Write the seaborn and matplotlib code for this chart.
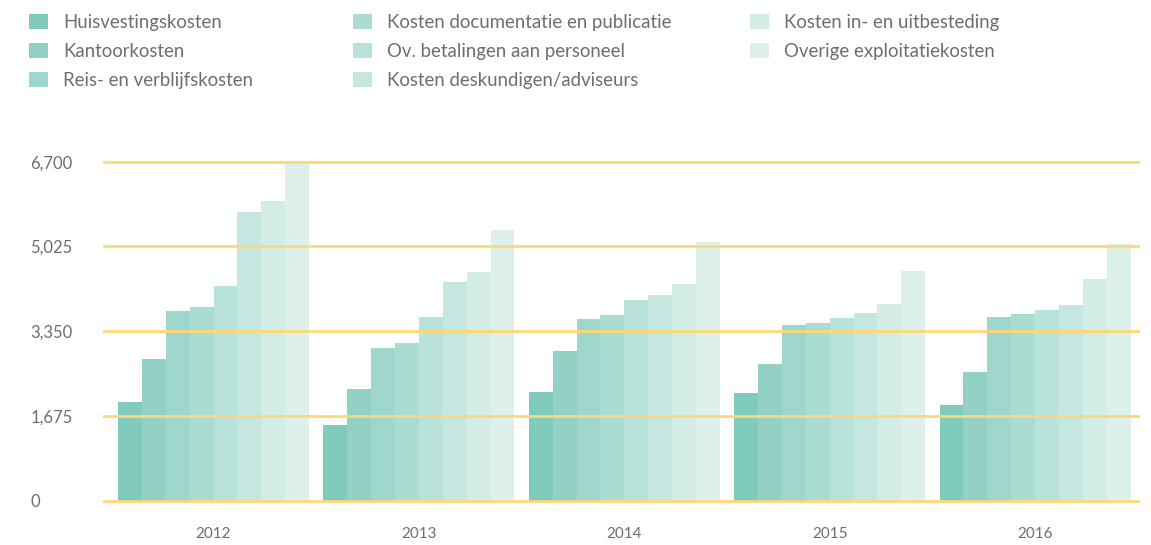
import pandas as pd
import matplotlib.pyplot as plt
import seaborn as sns
from matplotlib.patches import Patch

years = ['2012', '2013', '2014', '2015', '2016']
categories = [
    'Huisvestingskosten',
    'Kantoorkosten',
    'Reis- en verblijfskosten',
    'Kosten documentatie en publicatie',
    'Ov. betalingen aan personeel',
    'Kosten deskundigen/adviseurs',
    'Kosten in- en uitbesteding',
    'Overige exploitatiekosten',
]
# values per category, one per year
huisvesting = [1955, 1495, 2147, 2127, 1890]
kantoor = [2805, 2206, 2956, 2700, 2542]
reis = [3753, 3016, 3588, 3470, 3628]
documentatie = [3838, 3114, 3667, 3510, 3687]
ov_betalingen = [4253, 3628, 3964, 3608, 3766]
deskundigen = [5714, 4319, 4062, 3707, 3865]
uitbesteding = [5925, 4517, 4280, 3885, 4378]
overige = [6700, 5346, 5109, 4537, 5070]
series = [huisvesting, kantoor, reis, documentatie, ov_betalingen,
          deskundigen, uitbesteding, overige]

yticks = [0, 1675, 3350, 5025, 6700]
colors = ['#80cbbb', '#92d1c4', '#9fd7cc', '#aadcd2', '#b8e2da',
          '#c6e7df', '#d3ece6', '#ddf0ec']

rows = []
for cat, vals in zip(categories, series):
    for yr, v in zip(years, vals):
        rows.append({'year': yr, 'category': cat, 'value': v})
df = pd.DataFrame(rows)

sns.set_style('white')
plt.rcParams['font.family'] = ['Lato', 'DejaVu Sans']
text_color = '#6e6e6e'

fig = plt.figure(figsize=(11.51, 5.45), dpi=100)
ax = fig.add_axes([0.0895, 0.0761, 0.901, 0.6366])

sns.barplot(data=df, x='year', y='value', hue='category', hue_order=categories,
            palette=colors, saturation=1, width=0.93, linewidth=0,
            legend=False, ax=ax, errorbar=None)

for y in yticks:
    ax.axhline(y, color='#fdd875', lw=2, zorder=5)

ax.set_xlim(-0.538, 4.511)
ax.set_ylim(-50, 6800)
ax.set_yticks(yticks)
ax.set_yticklabels([f'{v:,}' for v in yticks])
for lab in ax.get_yticklabels():
    lab.set_horizontalalignment('left')
ax.tick_params(axis='y', length=0, pad=52.5, labelsize=12, labelcolor=text_color)
ax.tick_params(axis='x', length=0, pad=17, labelsize=11, labelcolor=text_color)
ax.set_xlabel('')
ax.set_ylabel('')
sns.despine(ax=ax, left=True, bottom=True)

handles = [Patch(facecolor=c, edgecolor='none') for c in colors]
groups = [(0, 3, 0.0255), (3, 6, 0.307), (6, 8, 0.6516)]
for start, end, xpos in groups:
    leg = fig.legend(handles[start:end], categories[start:end], loc='upper left',
                     bbox_to_anchor=(xpos, 0.975), frameon=False, fontsize=13.4,
                     handlelength=1.02, handleheight=0.91, handletextpad=0.8,
                     labelspacing=0.64, borderpad=0, borderaxespad=0)
    for t in leg.get_texts():
        t.set_color(text_color)

plt.savefig('out.png', dpi=100)
plt.close()
